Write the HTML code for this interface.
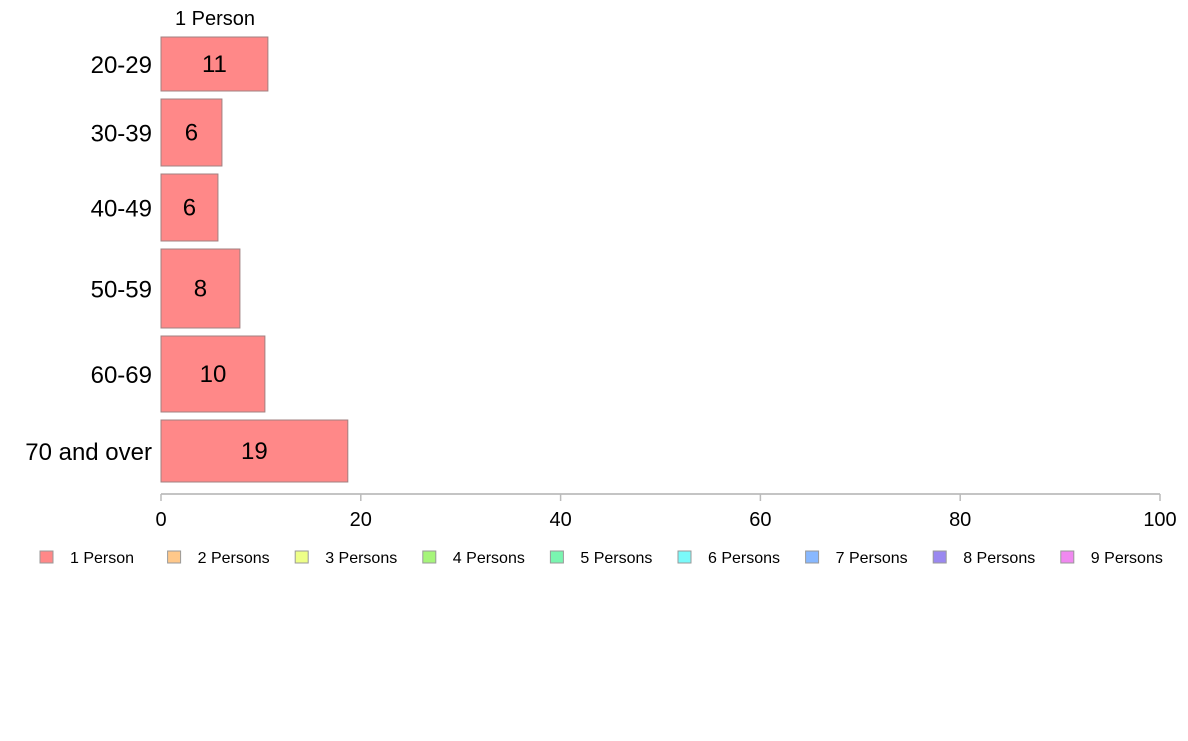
<!DOCTYPE html>
<html><head><meta charset="utf-8"><style>
body{margin:0;background:#fff;font-family:"Liberation Sans",Arial,sans-serif}
svg text{font-family:"Liberation Sans",Arial,sans-serif}
</style></head><body>
<svg id="chart" width="1188" height="736" xmlns="http://www.w3.org/2000/svg"></svg>
<script>
const categories = ["20-29","30-39","40-49","50-59","60-69","70 and over"];
const values = [10.7, 6.1, 5.7, 7.9, 10.4, 18.7];
const weights = [54, 67, 67, 79, 76, 62];
const xTicks = [0,20,40,60,80,100];
const legendLabels = ["1 Person","2 Persons","3 Persons","4 Persons","5 Persons","6 Persons","7 Persons","8 Persons","9 Persons"];
const legendColors = ["#ff8888","#ffc88a","#eeff88","#a6f57a","#7af5b0","#7afafa","#88b8ff","#9a88f0","#f088f0"];

const svg = document.getElementById('chart');
const NS = "http://www.w3.org/2000/svg";
function mk(tag, attrs, parent){const e=document.createElementNS(NS,tag);for(const k in attrs)e.setAttribute(k,attrs[k]);(parent||svg).appendChild(e);return e;}
const x0=161,x1=1160,plotTop=37,plotBottom=482,gap=8;
const xs = v => x0 + (v/100)*(x1-x0);
const totalW = weights.reduce((a,b)=>a+b,0);
const avail = plotBottom-plotTop-gap*(categories.length-1);

let t = mk('text',{x:215,y:25,'font-size':20,'text-anchor':'middle'});


t.textContent="1 Person";

let yy=plotTop;
categories.forEach((c,i)=>{
  const h = avail*weights[i]/totalW;
  const r = mk('rect',{x:x0,y:yy,width:xs(values[i])-x0,height:h,fill:'#ff8888',stroke:'#a08080','stroke-width':1});
  
  
  const v = mk('text',{x:(x0+xs(values[i]))/2,y:yy+h/2+8,'font-size':24,'text-anchor':'middle'});
  
  
  v.textContent=Math.round(values[i]);
  const l = mk('text',{x:152,y:yy+h/2+9,'font-size':24,'text-anchor':'end'});
  
  
  l.textContent=c;
  yy+=h+gap;
});

const ax = mk('line',{x1:x0,x2:x1,y1:494,y2:494,stroke:'#888','stroke-width':1});


xTicks.forEach(v=>{
  const tk = mk('line',{x1:xs(v),x2:xs(v),y1:494,y2:501,stroke:'#bbb','stroke-width':1.5});
  
  
  const tl = mk('text',{x:xs(v),y:526,'font-size':20,'text-anchor':'middle'});
  
  
  tl.textContent=v;
});

legendLabels.forEach((lab,i)=>{
  const lx = 40 + i*127.6;
  const g = mk('g',{});
  
  
  mk('rect',{x:lx,y:551,width:13,height:12,fill:legendColors[i],stroke:'#999','stroke-width':1},g);
  const tx = mk('text',{x:lx+30,y:563,'font-size':16},g);
  tx.textContent=lab;
});
</script>
</body></html>
